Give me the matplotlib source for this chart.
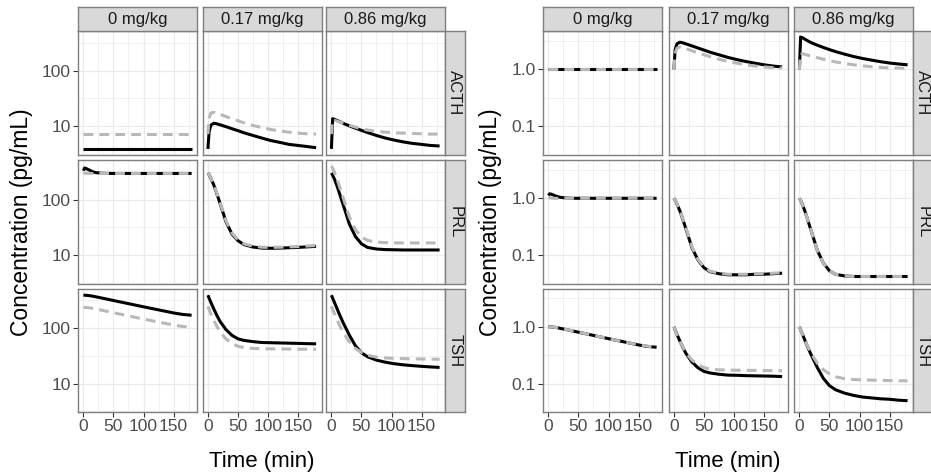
import numpy as np
import matplotlib
matplotlib.use("Agg")
import matplotlib.pyplot as plt
from matplotlib.ticker import NullFormatter

plt.rcParams['font.family'] = ['Liberation Sans', 'DejaVu Sans']

# time grid (min) and facet labels
t_min = [0, 2, 5, 10, 15, 20, 30, 40, 50, 60, 75, 90, 105, 120, 135, 150, 165, 180]
doses = ["0 mg/kg", "0.17 mg/kg", "0.86 mg/kg"]
hormones = ["ACTH", "PRL", "TSH"]

# ---- left panel: concentrations (pg/mL), black = model, grey = reference ----
acth_abs_black = [
    [3.9, 3.9, 3.9, 3.9, 3.9, 3.9, 3.9, 3.9, 3.9, 3.9, 3.9, 3.9, 3.9, 3.9, 3.9, 3.9, 3.9, 3.9],
    [3.9, 8.0, 10.5, 11.3, 11.0, 10.6, 9.8, 9.0, 8.3, 7.6, 6.8, 6.1, 5.5, 5.1, 4.7, 4.5, 4.3, 4.1],
    [3.9, 13.6, 13.3, 12.6, 11.9, 11.2, 10.1, 9.2, 8.4, 7.7, 6.8, 6.1, 5.6, 5.2, 4.9, 4.7, 4.5, 4.4],
]
acth_abs_grey = [
    [7.2, 7.2, 7.2, 7.2, 7.2, 7.2, 7.2, 7.2, 7.2, 7.2, 7.2, 7.2, 7.2, 7.2, 7.2, 7.2, 7.2, 7.2],
    [7.2, 14.0, 17.2, 17.8, 17.1, 16.3, 14.9, 13.6, 12.5, 11.5, 10.3, 9.4, 8.7, 8.2, 7.8, 7.5, 7.3, 7.2],
    [7.2, 13.0, 12.8, 12.3, 11.8, 11.3, 10.4, 9.6, 8.9, 8.5, 8.1, 7.8, 7.6, 7.5, 7.4, 7.3, 7.2, 7.2],
]
prl_abs_black = [
    [330, 370, 360, 338, 318, 306, 298, 296, 295, 295, 295, 295, 295, 295, 295, 295, 295, 295],
    [300, 279, 240, 180, 126, 87, 40, 24, 18.2, 15.5, 14.0, 13.4, 13.3, 13.4, 13.6, 13.8, 14.1, 14.4],
    [300, 276, 234, 168, 114, 78, 36, 21.6, 16.0, 13.8, 12.9, 12.6, 12.5, 12.4, 12.4, 12.4, 12.4, 12.4],
]
prl_abs_grey = [
    [305, 300, 297, 296, 295, 295, 295, 295, 295, 295, 295, 295, 295, 295, 295, 295, 295, 295],
    [300, 280, 242, 183, 129, 90, 42, 25, 18.8, 16.0, 14.5, 13.9, 13.8, 13.9, 14.1, 14.3, 14.6, 14.9],
    [400, 367, 311, 223, 152, 104, 48, 28.7, 21.3, 18.4, 17.2, 16.8, 16.6, 16.6, 16.6, 16.6, 16.6, 16.6],
]
tsh_abs_black = [
    [390, 390, 388, 383, 375, 366, 348, 330, 313, 297, 275, 254, 235, 218, 202, 187, 176, 170],
    [390, 343, 289, 218, 168, 133, 94, 74, 64, 60, 57, 55, 54.5, 54, 53.5, 53, 52.5, 52],
    [390, 345, 290, 215, 160, 122, 74, 48, 36, 30.5, 26.5, 24.3, 22.8, 21.8, 21.1, 20.5, 20.0, 19.6],
]
tsh_abs_grey = [
    [235, 235, 234, 231, 226, 221, 210, 199, 189, 179, 166, 153, 142, 131, 122, 113, 107, 103],
    [246, 215, 180, 137, 107, 86, 64, 53, 47, 44.5, 43, 42.5, 42.3, 42, 42, 41.8, 41.6, 41.5],
    [246, 216, 183, 137, 104, 82, 56, 43, 36.5, 32.5, 30, 29, 28.5, 28.2, 28, 27.8, 27.6, 27.5],
]

# ---- right panel: relative to baseline ----
acth_rel_black = [
    [1.0, 1.0, 1.0, 1.0, 1.0, 1.0, 1.0, 1.0, 1.0, 1.0, 1.0, 1.0, 1.0, 1.0, 1.0, 1.0, 1.0, 1.0],
    [1.0, 2.2, 2.8, 3.0, 2.92, 2.8, 2.58, 2.37, 2.18, 2.0, 1.8, 1.62, 1.48, 1.37, 1.28, 1.2, 1.14, 1.1],
    [1.0, 3.7, 3.6, 3.35, 3.12, 2.93, 2.65, 2.42, 2.22, 2.05, 1.85, 1.68, 1.55, 1.45, 1.36, 1.29, 1.24, 1.2],
]
acth_rel_grey = [
    [1.0, 1.0, 1.0, 1.0, 1.0, 1.0, 1.0, 1.0, 1.0, 1.0, 1.0, 1.0, 1.0, 1.0, 1.0, 1.0, 1.0, 1.0],
    [1.0, 1.9, 2.35, 2.48, 2.4, 2.3, 2.12, 1.95, 1.8, 1.67, 1.5, 1.38, 1.28, 1.2, 1.14, 1.1, 1.07, 1.05],
    [1.0, 1.9, 1.88, 1.82, 1.76, 1.7, 1.6, 1.5, 1.42, 1.35, 1.27, 1.2, 1.15, 1.11, 1.08, 1.06, 1.05, 1.04],
]
prl_rel_black = [
    [1.12, 1.2, 1.18, 1.12, 1.07, 1.04, 1.01, 1.0, 1.0, 1.0, 1.0, 1.0, 1.0, 1.0, 1.0, 1.0, 1.0, 1.0],
    [1.0, 0.93, 0.8, 0.6, 0.42, 0.29, 0.135, 0.082, 0.06, 0.051, 0.047, 0.045, 0.045, 0.045, 0.046, 0.046, 0.047, 0.048],
    [1.0, 0.92, 0.78, 0.56, 0.38, 0.26, 0.12, 0.072, 0.053, 0.046, 0.043, 0.042, 0.042, 0.042, 0.042, 0.042, 0.042, 0.042],
]
prl_rel_grey = [
    [1.03, 1.02, 1.01, 1.0, 1.0, 1.0, 1.0, 1.0, 1.0, 1.0, 1.0, 1.0, 1.0, 1.0, 1.0, 1.0, 1.0, 1.0],
    [1.0, 0.93, 0.81, 0.61, 0.43, 0.3, 0.14, 0.084, 0.062, 0.052, 0.048, 0.046, 0.046, 0.046, 0.047, 0.047, 0.048, 0.049],
    [1.0, 0.92, 0.78, 0.56, 0.38, 0.26, 0.12, 0.072, 0.053, 0.046, 0.043, 0.042, 0.042, 0.042, 0.042, 0.042, 0.042, 0.042],
]
tsh_rel_black = [
    [1.0, 1.0, 0.995, 0.982, 0.962, 0.938, 0.892, 0.846, 0.803, 0.762, 0.705, 0.651, 0.603, 0.559, 0.518, 0.479, 0.451, 0.436],
    [1.0, 0.88, 0.74, 0.56, 0.43, 0.34, 0.24, 0.19, 0.164, 0.154, 0.146, 0.141, 0.14, 0.138, 0.137, 0.136, 0.135, 0.133],
    [1.0, 0.885, 0.744, 0.551, 0.41, 0.313, 0.19, 0.123, 0.092, 0.078, 0.068, 0.062, 0.058, 0.056, 0.054, 0.053, 0.051, 0.050],
]
tsh_rel_grey = [
    [1.0, 1.0, 0.996, 0.983, 0.962, 0.94, 0.894, 0.847, 0.804, 0.762, 0.706, 0.651, 0.604, 0.557, 0.519, 0.481, 0.455, 0.438],
    [1.0, 0.874, 0.732, 0.557, 0.435, 0.35, 0.26, 0.215, 0.191, 0.181, 0.175, 0.173, 0.172, 0.171, 0.171, 0.17, 0.169, 0.169],
    [1.0, 0.878, 0.744, 0.557, 0.423, 0.333, 0.228, 0.175, 0.148, 0.132, 0.122, 0.118, 0.116, 0.115, 0.114, 0.113, 0.112, 0.112],
]

left_black = [acth_abs_black, prl_abs_black, tsh_abs_black]
left_grey = [acth_abs_grey, prl_abs_grey, tsh_abs_grey]
right_black = [acth_rel_black, prl_rel_black, tsh_rel_black]
right_grey = [acth_rel_grey, prl_rel_grey, tsh_rel_grey]

W, H = 931, 473
fig = plt.figure(figsize=(W / 100, H / 100), dpi=100)

BORDER = '#7f7f7f'
GRID = '#ebebeb'
STRIP = '#d9d9d9'
TICK_FS = 12.5
STRIP_FS = 12


def px_axes(x0, y0, w, h):
    return fig.add_axes([x0 / W, 1 - (y0 + h) / H, w / W, h / H])


def style_box(ax):
    for s in ax.spines.values():
        s.set_color(BORDER)
        s.set_linewidth(1.0)


def facet_grid(black, grey, col_x, yticks, yticklabels, yminor, ylab_x):
    row_y = [31.5, 160.5, 289]
    pw, ph = 119, 123
    allv = np.concatenate([np.ravel(black), np.ravel(grey)])
    lo, hi = np.log10(allv.min()), np.log10(allv.max())
    pad = 0.05 * (hi - lo)
    ylim = (10 ** (lo - pad), 10 ** (hi + pad))
    for r in range(3):
        for c in range(3):
            ax = px_axes(col_x[c], row_y[r], pw, ph)
            ax.set_yscale('log')
            ax.plot(t_min, black[r][c], color='black', lw=2.2,
                    solid_capstyle='butt', zorder=3)
            ax.plot(t_min, grey[r][c], color='#b8b8b8', lw=2.2,
                    dashes=(3.2, 2.0), dash_capstyle='butt', zorder=4)
            ax.set_xlim(-9, 189)
            ax.set_ylim(*ylim)
            ax.set_xticks([0, 50, 100, 150])
            ax.set_xticks([25, 75, 125, 175], minor=True)
            ax.set_yticks(yticks)
            ax.set_yticks(yminor, minor=True)
            ax.yaxis.set_minor_formatter(NullFormatter())
            ax.grid(which='major', color=GRID, lw=0.9, zorder=0)
            ax.grid(which='minor', color=GRID, lw=0.5, zorder=0)
            ax.set_axisbelow(True)
            style_box(ax)
            ax.tick_params(which='minor', length=0)
            ax.tick_params(which='major', length=3.5, width=0.8, color='#333333',
                           labelsize=TICK_FS, labelcolor='#4d4d4d', pad=1.5)
            if c == 0:
                ax.set_yticklabels(yticklabels)
            else:
                ax.tick_params(axis='y', length=0, labelleft=False)
            if r == 2:
                ax.set_xticklabels(['0', '50', '100', '150'])
            else:
                ax.tick_params(axis='x', length=0, labelbottom=False)
            # top strips
            if r == 0:
                sx = px_axes(col_x[c], 7.5, pw, 24)
                sx.set_facecolor(STRIP)
                sx.set_xticks([])
                sx.set_yticks([])
                style_box(sx)
                sx.text(0.5, 0.48, doses[c], ha='center', va='center',
                        fontsize=STRIP_FS, color='#1a1a1a', transform=sx.transAxes)
        # right strips
        sy = px_axes(col_x[2] + pw, row_y[r], 19.5, ph)
        sy.set_facecolor(STRIP)
        sy.set_xticks([])
        sy.set_yticks([])
        style_box(sy)
        sy.text(0.5, 0.5, hormones[r], ha='center', va='center', rotation=-90,
                fontsize=STRIP_FS, color='#1a1a1a', transform=sy.transAxes)

    xc = (col_x[0] + col_x[2] + pw) / 2
    fig.text(xc / W, 1 - 461 / H, 'Time (min)', ha='center', va='center',
             fontsize=16, color='black')
    fig.text(ylab_x / W, 1 - 222 / H, 'Concentration (pg/mL)', ha='center',
             va='center', rotation=90, fontsize=16.5, color='black')


facet_grid(left_black, left_grey, [78, 202.5, 326], [10, 100], ['10', '100'],
           [10 ** 0.5, 10 ** 1.5, 10 ** 2.5], 22)
facet_grid(right_black, right_grey, [543, 668.5, 794], [0.1, 1.0], ['0.1', '1.0'],
           [10 ** -1.5, 10 ** -0.5, 10 ** 0.5], 490)

fig.savefig('out.png', dpi=100)
